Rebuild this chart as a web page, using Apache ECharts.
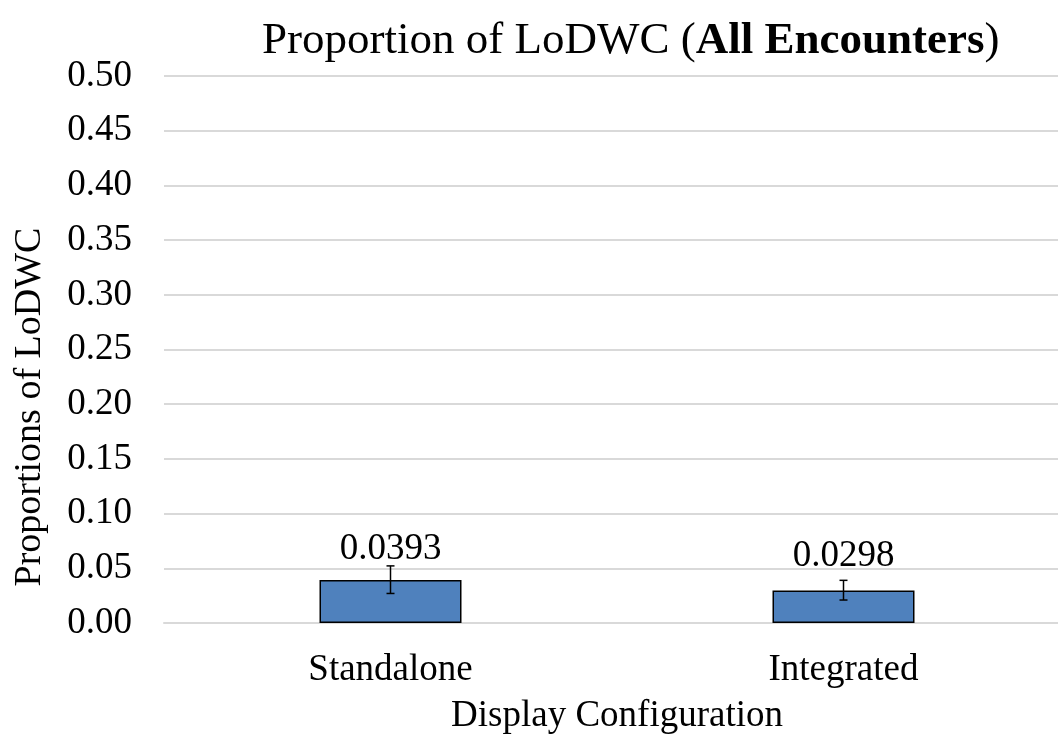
<!DOCTYPE html>
<html>
<head>
<meta charset="utf-8">
<script src="https://cdn.jsdelivr.net/npm/echarts@6/dist/echarts.min.js"></script>
<style>html,body{margin:0;padding:0;background:#fff;overflow:hidden;}#c{width:1070px;height:737px;}</style>
</head>
<body>
<div id="c"></div>
<script>
const categories = ['Standalone', 'Integrated'];
const values = [0.0393, 0.0298];
const errLow = [0.0270, 0.0210];
const errHigh = [0.0522, 0.0390];
const valueLabels = ['0.0393', '0.0298'];
const yTicks = { min: 0, max: 0.5, interval: 0.05 };
const labelGaps = [12, 16];
const FONT = '"Liberation Serif", "Times New Roman", serif';

const chart = echarts.init(document.getElementById('c'), null, { renderer: 'canvas' });
chart.setOption({
  animation: false,
  backgroundColor: '#fff',
  title: {
    text: '{n|Proportion of LoDWC (}{b|All Encounters}{n|)}',
    left: 257, top: 14,
    textStyle: {
      fontWeight: 'normal',
      rich: {
        n: { fontFamily: FONT, fontSize: 45, fontWeight: 'normal', color: '#000' },
        b: { fontFamily: FONT, fontSize: 45, fontWeight: 'bold', color: '#000' }
      }
    }
  },
  grid: { left: 164, right: 0, top: 76, bottom: 114, containLabel: false },
  xAxis: {
    type: 'category',
    data: categories,
    axisLine: { show: true, lineStyle: { color: '#d9d9d9', width: 2 } },
    axisTick: { show: false },
    axisLabel: { fontFamily: FONT, fontSize: 37, color: '#000', margin: 29 }
  },
  yAxis: {
    type: 'value',
    min: yTicks.min, max: yTicks.max, interval: yTicks.interval,
    axisLine: { show: false },
    axisTick: { show: false },
    splitLine: { lineStyle: { color: '#d9d9d9', width: 2 } },
    axisLabel: { fontFamily: FONT, fontSize: 37, color: '#000', margin: 32,
      formatter: v => v.toFixed(2) }
  },
  graphic: [
    { type: 'text', x: 30, y: 407, rotation: Math.PI / 2,
      style: { text: 'Proportions of LoDWC', font: '38px ' + FONT, fill: '#000',
        textAlign: 'center', textVerticalAlign: 'middle' } },
    { type: 'text', x: 617, y: 716,
      style: { text: 'Display Configuration', font: '37px ' + FONT, fill: '#000',
        textAlign: 'center', textVerticalAlign: 'middle' } }
  ],
  series: [
    {
      type: 'bar',
      data: values.map((v, i) => ({ value: v, label: { distance: labelGaps[i] } })),
      barWidth: 142,
      itemStyle: { color: '#4f81bd', borderColor: '#000', borderWidth: 1.5 },
      label: {
        show: true, position: 'top', distance: 12,
        fontFamily: FONT, fontSize: 37, color: '#000',
        formatter: p => valueLabels[p.dataIndex]
      },
      z: 2
    },
    {
      type: 'custom',
      data: categories.map((c, i) => [i, errLow[i], errHigh[i]]),
      renderItem: function (params, api) {
        const lo = api.coord([api.value(0), api.value(1)]);
        const hi = api.coord([api.value(0), api.value(2)]);
        const hw = 4;
        const st = { stroke: '#000', lineWidth: 1.5 };
        return {
          type: 'group',
          children: [
            { type: 'line', shape: { x1: lo[0], y1: lo[1], x2: hi[0], y2: hi[1] }, style: st },
            { type: 'line', shape: { x1: lo[0] - hw, y1: lo[1], x2: lo[0] + hw, y2: lo[1] }, style: st },
            { type: 'line', shape: { x1: hi[0] - hw, y1: hi[1], x2: hi[0] + hw, y2: hi[1] }, style: st }
          ]
        };
      },
      z: 5
    }
  ]
});
</script>
</body>
</html>
